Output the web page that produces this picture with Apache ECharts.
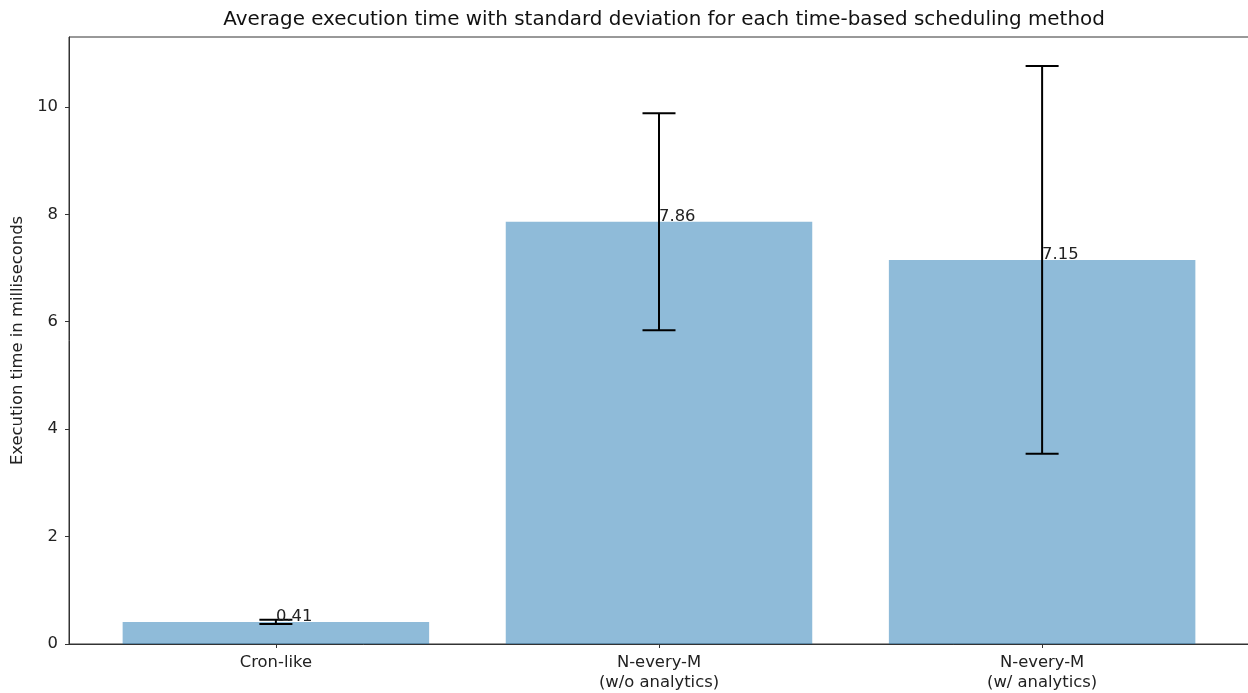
<!DOCTYPE html>
<html>
<head>
<meta charset="utf-8">
<script src="https://cdn.jsdelivr.net/npm/echarts@6/dist/echarts.min.js"></script>
<style>
  html, body { margin: 0; padding: 0; background: #fff; }
  #chart { width: 1248px; height: 693px; }
</style>
</head>
<body>
<div id="chart"></div>
<script>
// Scheduling methods and their measured execution times (ms)
const categories = ['Cron-like', 'N-every-M\n(w/o analytics)', 'N-every-M\n(w/ analytics)'];
const meanMs = [0.41, 7.86, 7.15];
const stdMs = [0.04, 2.02, 3.61];
const yTicks = [0, 2, 4, 6, 8, 10];
const xTicks = [0, 1, 2];

const FONT = 'DejaVu Sans';
const BAR_WIDTH = 0.8;   // in category units
const CAP_HALF = 16.5;   // px

const barData = meanMs.map((v, i) => [i, v]);
const errData = meanMs.map((v, i) => [i, v, stdMs[i]]);

const chart = echarts.init(document.getElementById('chart'), null, { renderer: 'canvas' });

chart.setOption({
  animation: false,
  backgroundColor: '#ffffff',
  title: {
    text: 'Average execution time with standard deviation for each time-based scheduling method',
    left: 659, top: 5, textAlign: 'center',
    textStyle: { fontFamily: FONT, fontSize: 19.9, fontWeight: 'normal', color: '#111' }
  },
  grid: {
    left: 69, right: -1, top: 37, bottom: 49,
    show: true, borderColor: '#333', borderWidth: 1,
    containLabel: false, outerBoundsMode: 'none'
  },
  xAxis: {
    type: 'value', min: -0.54, max: 2.54,
    splitLine: { show: false },
    axisLine: { show: true, onZero: false, lineStyle: { color: '#333', width: 1 } },
    axisTick: { show: true, length: 4, customValues: xTicks, lineStyle: { color: '#333' } },
    axisLabel: {
      customValues: xTicks,
      formatter: v => categories[Math.round(v)],
      fontFamily: FONT, fontSize: 16.4, color: '#222', margin: 9, lineHeight: 20
    }
  },
  yAxis: {
    type: 'value', min: 0, max: 11.3,
    name: 'Execution time in milliseconds',
    nameLocation: 'middle', nameGap: 38,
    nameTextStyle: { fontFamily: FONT, fontSize: 16.4, color: '#222' },
    splitLine: { show: false },
    axisLine: { show: true, onZero: false, lineStyle: { color: '#333', width: 1 } },
    axisTick: { show: true, length: 4, customValues: yTicks, lineStyle: { color: '#333' } },
    axisLabel: {
      customValues: yTicks,
      fontFamily: FONT, fontSize: 16.4, color: '#222', margin: 11
    }
  },
  series: [
    {
      name: 'mean',
      type: 'custom',
      data: barData,
      encode: { x: 0, y: 1 },
      z: 2,
      renderItem: (params, api) => {
        const x = api.value(0), y = api.value(1);
        const tl = api.coord([x - BAR_WIDTH / 2, y]);
        const br = api.coord([x + BAR_WIDTH / 2, 0]);
        return {
          type: 'rect',
          shape: { x: tl[0], y: tl[1], width: br[0] - tl[0], height: br[1] - tl[1] },
          style: { fill: 'rgba(31,119,180,0.5)' }
        };
      }
    },
    {
      name: 'std',
      type: 'custom',
      data: errData,
      encode: { x: 0, y: 1 },
      z: 3,
      renderItem: (params, api) => {
        const x = api.value(0), m = api.value(1), s = api.value(2);
        const hi = api.coord([x, m + s]);
        const lo = api.coord([x, m - s]);
        const mid = api.coord([x, m]);
        const ls = { stroke: '#000', lineWidth: 2 };
        return {
          type: 'group',
          children: [
            { type: 'line', shape: { x1: hi[0], y1: hi[1], x2: lo[0], y2: lo[1] }, style: ls },
            { type: 'line', shape: { x1: hi[0] - CAP_HALF, y1: hi[1], x2: hi[0] + CAP_HALF, y2: hi[1] }, style: ls },
            { type: 'line', shape: { x1: lo[0] - CAP_HALF, y1: lo[1], x2: lo[0] + CAP_HALF, y2: lo[1] }, style: ls },
            {
              type: 'text', z2: 10,
              style: {
                x: mid[0], y: mid[1] + 3,
                text: m.toFixed(2),
                fontFamily: FONT, fontSize: 16.4, fill: '#222',
                align: 'left', verticalAlign: 'bottom'
              }
            }
          ]
        };
      }
    }
  ]
});
</script>
</body>
</html>
